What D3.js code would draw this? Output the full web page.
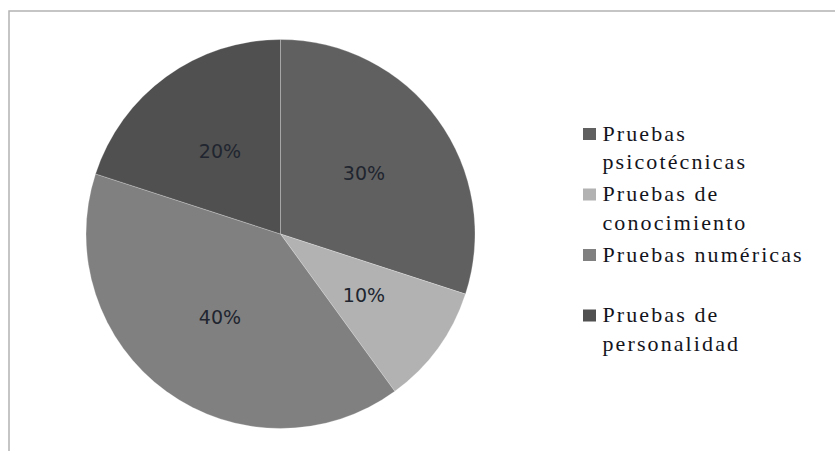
<!DOCTYPE html>
<html>
<head>
<meta charset="utf-8">
<script src="https://cdn.jsdelivr.net/npm/d3@7"></script>
<style>
  html, body { margin: 0; padding: 0; background: #fff; }
  svg { display: block; }
</style>
</head>
<body>
<svg id="chart" width="835" height="451"></svg>
<script>
// Tipos de prueba y su porcentaje
const categories = ["Pruebas psicotécnicas", "Pruebas de conocimiento", "Pruebas numéricas", "Pruebas de personalidad"];
const values = [30, 10, 40, 20];
const legendLines = [["Pruebas", "psicotécnicas"], ["Pruebas de", "conocimiento"], ["Pruebas numéricas"], ["Pruebas de", "personalidad"]];
const colors = ["#606060", "#b2b2b2", "#808080", "#505050"];

const W = 835, H = 451;
const svg = d3.select("#chart");

// Chart area frame (runs off the right and bottom edges)
svg.append("rect")
  .attr("x", 9).attr("y", 11)
  .attr("width", W).attr("height", H)
  .attr("fill", "#fff")
  .attr("stroke", "#b3b3b3")
  .attr("stroke-width", 1.5);

const cx = 280.5, cy = 234, R = 194.5;

const pie = d3.pie().sort(null).value(d => d);
const arcs = pie(values);
const arc = d3.arc().innerRadius(0).outerRadius(R);
const labelArc = d3.arc().innerRadius(R * 0.53).outerRadius(R * 0.53);

const g = svg.append("g").attr("transform", `translate(${cx},${cy})`);

g.selectAll("path.slice")
  .data(arcs)
  .join("path")
  .attr("class", "slice")
  .attr("d", arc)
  .attr("fill", (d, i) => colors[i])
  .attr("stroke", "rgba(255,255,255,0.25)")
  .attr("stroke-width", 1);

g.selectAll("text.pct")
  .data(arcs)
  .join("text")
  .attr("class", "pct")
  .attr("transform", d => `translate(${labelArc.centroid(d)})`)
  .attr("text-anchor", "middle")
  .attr("dominant-baseline", "central")
  .style("font-family", "'DejaVu Sans', Verdana, sans-serif")
  .attr("font-size", 19)
  .attr("fill", "#20252f")
  .text(d => d.value + "%");

// Legend: swatch + wrapped serif label per entry
const legend = svg.append("g").attr("transform", "translate(583,134)");
const entryStep = 60.5, lineStep = 28.6;

const items = legend.selectAll("g.item")
  .data(categories)
  .join("g")
  .attr("class", "item")
  .attr("transform", (d, i) => `translate(0,${i * entryStep})`);

items.append("rect")
  .attr("x", 0).attr("y", -6)
  .attr("width", 13).attr("height", 12)
  .attr("fill", (d, i) => colors[i]);

items.each(function(d, i) {
  d3.select(this).selectAll("text")
    .data(legendLines[i])
    .join("text")
    .attr("x", 19.5)
    .attr("y", (line, k) => 6.8 + k * lineStep)
    .style("font-family", "'Liberation Serif', 'Times New Roman', serif")
    .attr("font-size", 22)
    .attr("letter-spacing", 2.1)
    .attr("fill", "#14141c")
    .text(line => line);
});
</script>
</body>
</html>
